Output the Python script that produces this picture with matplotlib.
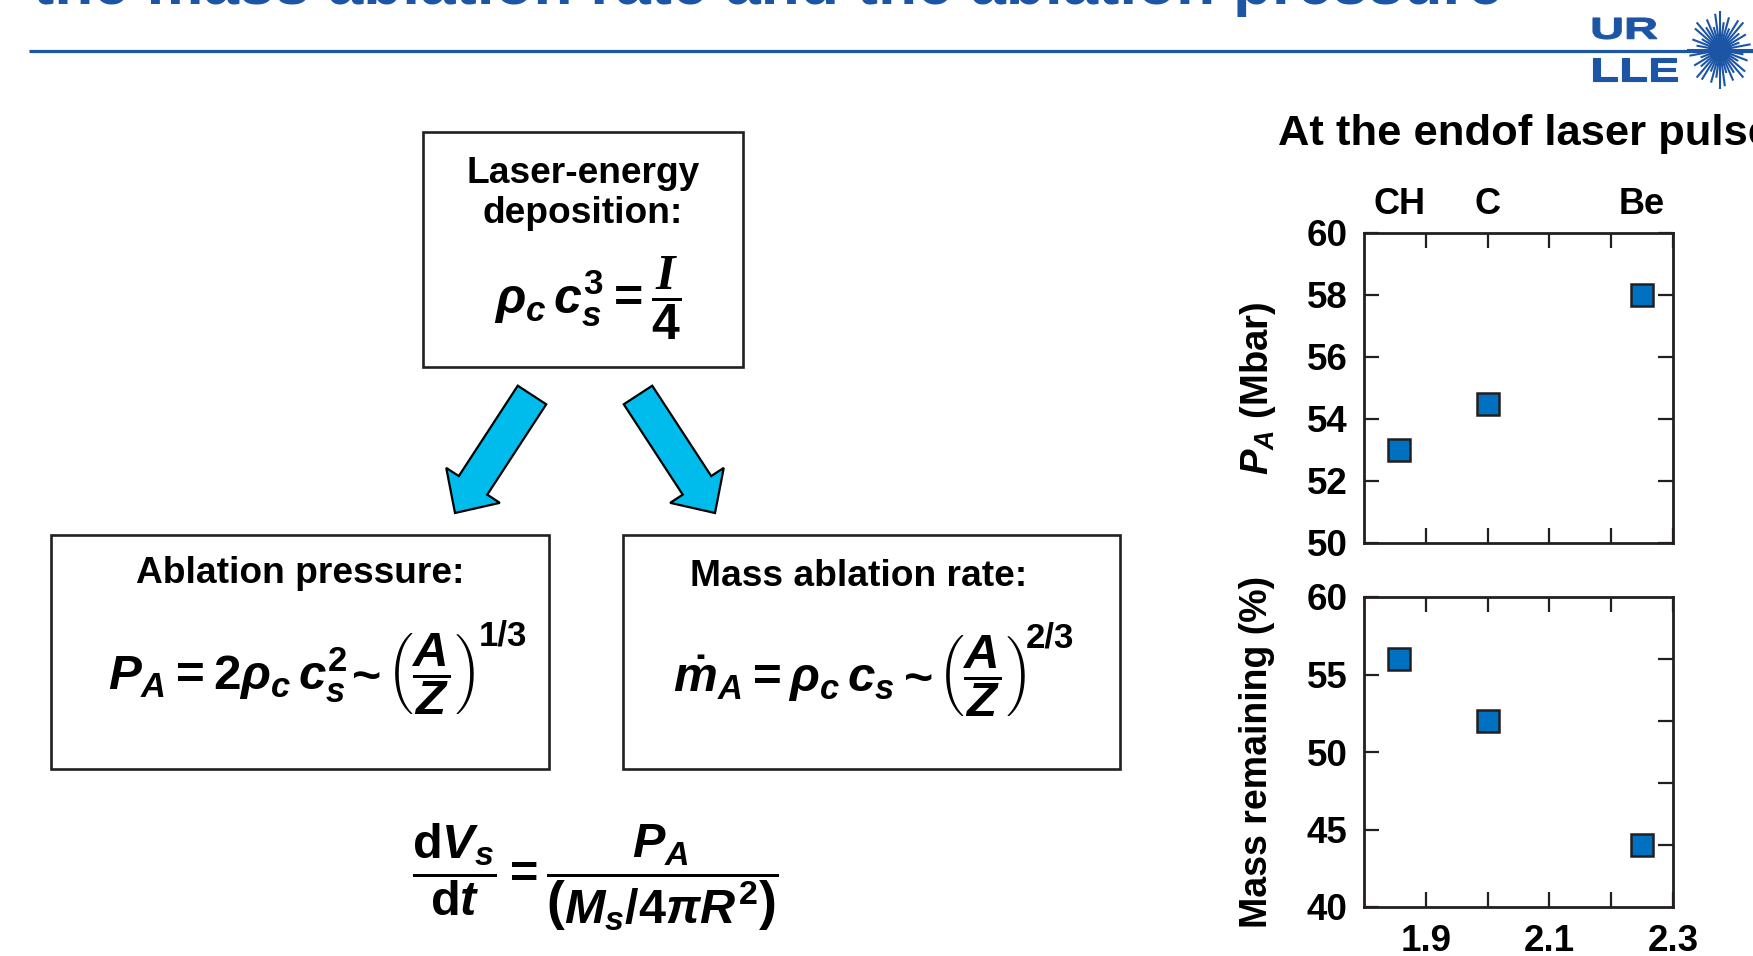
import numpy as np
import matplotlib
matplotlib.use("Agg")
import matplotlib.pyplot as plt
from matplotlib.patches import Rectangle, FancyArrow, Circle, PathPatch
from matplotlib.textpath import TextPath
from matplotlib.font_manager import FontProperties
from matplotlib.transforms import Affine2D, blended_transform_factory

# ----- Style -----
plt.rcParams['font.family'] = ['Liberation Sans', 'DejaVu Sans']
plt.rcParams['font.weight'] = 'bold'
plt.rcParams['mathtext.fontset'] = 'custom'
plt.rcParams['mathtext.rm'] = 'Liberation Sans:bold'
plt.rcParams['mathtext.it'] = 'Liberation Sans:bold:italic'
plt.rcParams['mathtext.bf'] = 'Liberation Sans:bold'
plt.rcParams['mathtext.sf'] = 'Liberation Sans:bold'
plt.rcParams['mathtext.cal'] = 'Liberation Serif:bold:italic'

# ----- Data -----
materials = ['CH', 'C', 'Be']
a_over_z = [1.857, 2.0, 2.25]
ablation_pressure = [53.0, 54.5, 58.0]   # Mbar
mass_remaining = [56.0, 52.0, 44.0]      # %

x_ticks = [1.9, 2.0, 2.1, 2.2, 2.3]
x_ticklabels = ['1.9', '', '2.1', '', '2.3']
p_ticks = [50, 52, 54, 56, 58, 60]
m_ticks = [40, 45, 50, 55, 60]
m_ticks_right = [44, 48, 52, 56]

BLUE = '#1d55a6'
CYAN = '#00bcec'
MARKER = '#0070c0'
INK = '#231f20'

W, H = 1753, 956
fig = plt.figure(figsize=(W / 100, H / 100), dpi=100)

# full-figure overlay in pixel coords (y down)
bg = fig.add_axes([0, 0, 1, 1])
bg.set_xlim(0, W)
bg.set_ylim(H, 0)
bg.axis('off')

# ----- Header -----
bg.text(33, 4, 'the mass ablation rate and the ablation pressure', color=BLUE,
        fontsize=46, fontweight='bold', ha='left', va='baseline')
bg.plot([29, W], [50.5, 50.5], color=BLUE, lw=2.3, solid_capstyle='butt')


def logo_text(s, x0, y0, x1, y1):
    tp = TextPath((0, 0), s, size=1, prop=FontProperties(family='Liberation Sans', weight='bold'))
    ext = tp.get_extents()
    sx = (x1 - x0) / ext.width
    sy = (y1 - y0) / ext.height
    tr = Affine2D().translate(-ext.x0, -ext.y0).scale(sx, -sy).translate(x0, y1)
    bg.add_patch(PathPatch(tr.transform_path(tp), fc=BLUE, ec=BLUE, lw=0.8))


logo_text('UR', 1593, 18, 1657, 39)
logo_text('LLE', 1593, 58, 1677, 81)
cx, cy = 1720, 50
ang = np.deg2rad(np.arange(0, 360, 9))
reach = np.tile([1.0, 0.72, 0.88, 0.62, 0.94], len(ang) // 5 + 1)[:len(ang)]
for a, r in zip(ang, reach):
    bg.plot([cx, cx + 33 * r * np.cos(a)], [cy, cy + 39 * r * np.sin(a)],
            color=BLUE, lw=1.5, solid_capstyle='butt')
bg.add_patch(Circle((cx, cy), 11, color=BLUE))

# ----- Boxes -----
box_kw = dict(fill=False, lw=1.9, ec=INK)
bg.add_patch(Rectangle((423, 132), 320, 235, **box_kw))
bg.add_patch(Rectangle((51, 535), 498, 234, **box_kw))
bg.add_patch(Rectangle((623, 535), 497, 234, **box_kw))

bg.text(583, 183, 'Laser-energy', fontsize=26.7, ha='center', va='baseline')
bg.text(583, 223, 'deposition:', fontsize=26.7, ha='center', va='baseline')
bg.text(588, 298, r'$\rho_c\, c_s^3 = \dfrac{\mathcal{I}}{4}$', fontsize=36, ha='center', va='center')


def scaling_formula(lhs, power, x_lhs, x_tilde, x_frac, x_pow, base, pow_base):
    bg.text(x_lhs, base, lhs, fontsize=35.5, ha='left', va='baseline')
    bg.text(x_tilde, base + 2, '~', fontsize=36, ha='center', va='baseline')
    bg.text(x_frac, base, r'$\left(\dfrac{A}{Z}\right)$', fontsize=35.5, ha='left', va='baseline')
    bg.text(x_pow, pow_base, power, fontsize=25, ha='left', va='baseline')


bg.text(300, 583, 'Ablation pressure:', fontsize=26.7, ha='center', va='baseline')
scaling_formula(r'$P_A = 2\rho_c\, c_s^2$', '1/3', 108, 367, 386, 479, 690, 645)

bg.text(859, 586, 'Mass ablation rate:', fontsize=26.7, ha='center', va='baseline')
scaling_formula(r'$\dot{m}_A = \rho_c\, c_s$', '2/3', 673, 919, 937, 1026, 692, 647)

bg.text(595, 877, r'$\dfrac{\mathrm{d}V_s}{\mathrm{d}t} = \dfrac{P_A}{\left(M_s/4\pi R^2\right)}$',
        fontsize=35, ha='center', va='center')

# ----- Arrows -----
arrow_kw = dict(width=34, head_width=64, head_length=33, length_includes_head=True,
                fc=CYAN, ec='black', lw=1.6)
bg.add_patch(FancyArrow(532, 395, 455 - 532, 513 - 395, **arrow_kw))
bg.add_patch(FancyArrow(638, 395, 715 - 638, 513 - 395, **arrow_kw))

# ----- Scatter panels -----
bg.text(1278, 145, 'At the endof laser pulse', fontsize=31.3, ha='left', va='baseline')


def style_axes(ax):
    for sp in ax.spines.values():
        sp.set_linewidth(2.0)
        sp.set_color(INK)
    ax.tick_params(direction='in', length=11, width=1.6, color=INK, labelsize=26.5,
                   pad=12, top=True, right=True)
    for lab in ax.get_xticklabels() + ax.get_yticklabels():
        lab.set_fontweight('bold')


ax1 = fig.add_axes([1364 / W, 1 - 543 / H, 309 / W, 310 / H])
ax1.plot(a_over_z, ablation_pressure, 's', ms=16, mfc=MARKER, mec=INK, mew=1.8)
ax1.set_xlim(1.8, 2.3)
ax1.set_ylim(50, 60)
ax1.set_xticks(x_ticks)
ax1.set_xticklabels([])
ax1.set_yticks(p_ticks)
style_axes(ax1)
tr = blended_transform_factory(ax1.transData, ax1.transAxes)
for name, xv in zip(materials, a_over_z):
    ax1.text(xv, 1.06, name, transform=tr, fontsize=26, fontweight='bold',
             ha='center', va='baseline')
bg.text(1258, 388, r'$P_A$ (Mbar)', fontsize=27.5, rotation=90, ha='center', va='center')

ax2 = fig.add_axes([1364 / W, 1 - 907 / H, 309 / W, 310 / H])
ax2.plot(a_over_z, mass_remaining, 's', ms=16, mfc=MARKER, mec=INK, mew=1.8)
ax2.set_xlim(1.8, 2.3)
ax2.set_ylim(40, 60)
ax2.set_xticks(x_ticks)
ax2.set_xticklabels(x_ticklabels)
ax2.set_yticks(m_ticks)
style_axes(ax2)
ax2.tick_params(right=False)
ax2r = ax2.twinx()
ax2r.set_ylim(40, 60)
ax2r.set_yticks(m_ticks_right)
ax2r.tick_params(direction='in', length=11, width=1.6, color=INK, labelright=False)
for sp in ax2r.spines.values():
    sp.set_visible(False)
bg.text(1257, 752, 'Mass remaining (%)', fontsize=27, rotation=90, ha='center', va='center')

fig.savefig('out.png', dpi=100)
